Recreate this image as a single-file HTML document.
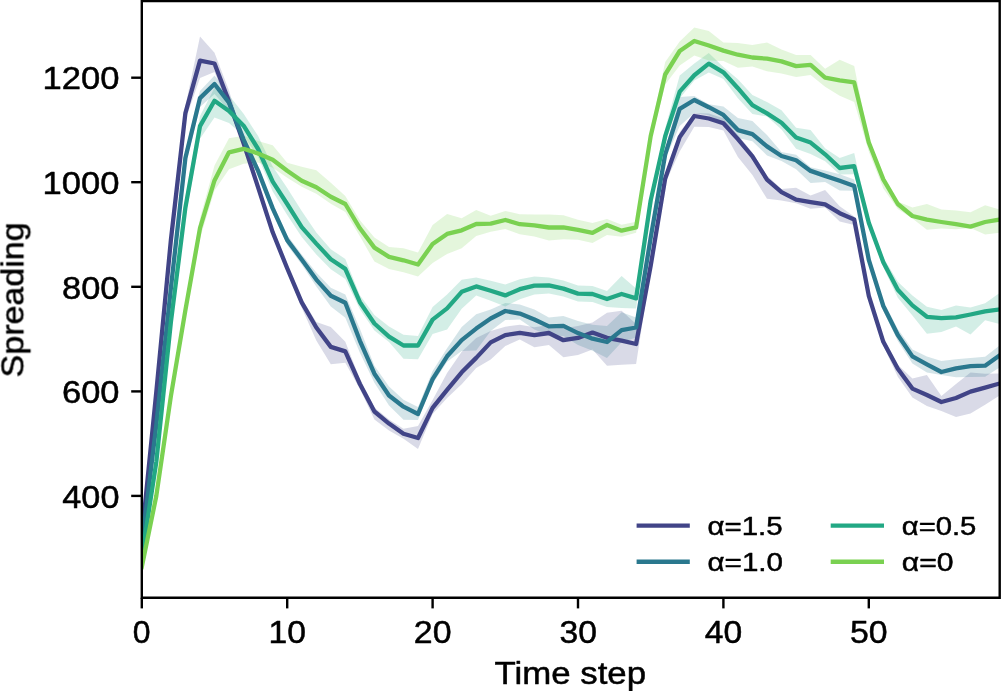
<!DOCTYPE html>
<html><head><meta charset="utf-8"><title>Spreading vs time step</title>
<style>html,body{margin:0;padding:0;background:#fff;overflow:hidden}svg{display:block}text{font-family:"Liberation Sans",sans-serif;fill:#000}</style>
</head><body>
<svg width="1001" height="691" viewBox="0 0 1001 691">
<rect x="0" y="0" width="1001" height="691" fill="#fff"/>
<defs><filter id="g" filterUnits="userSpaceOnUse" x="0" y="0" width="1001" height="691"><feOffset dx="0" dy="0"/></filter></defs>
<defs><clipPath id="ax"><rect x="141.8" y="1.1" width="857.9" height="596.7"/></clipPath></defs>
<g clip-path="url(#ax)">
<path d="M141.8 534 L156.3 389 L170.9 237 L185.4 106.1 L200 36.6 L214.5 52.7 L229 90.6 L243.6 139.4 L258.1 183.3 L272.7 228.3 L287.2 264.3 L301.7 298.4 L316.3 322.1 L330.8 327.1 L345.3 341.8 L359.9 379 L374.4 407.5 L389 419.6 L403.5 428.8 L418 426 L432.6 399.9 L447.1 372.9 L461.7 351.7 L476.2 337.9 L490.7 331 L505.3 326.7 L519.8 324.8 L534.4 327.2 L548.9 325 L563.4 328.2 L578 325.9 L592.5 322.6 L607 312.8 L621.6 310.7 L636.1 324 L650.7 261.6 L665.2 173.5 L679.7 132.1 L694.3 113 L708.8 113.5 L723.4 118.3 L737.9 135.1 L752.4 152.4 L767 175.6 L781.5 189.1 L796.1 187.7 L810.6 195.6 L825.1 190 L839.7 206.2 L854.2 216.5 L868.8 292.8 L883.3 337.8 L897.8 364.7 L912.4 378.6 L926.9 375 L941.4 396 L956 384 L970.5 372.6 L985.1 373.7 L999.6 373.5 L999.6 395.5 L985.1 404.7 L970.5 413.6 L956 417 L941.4 411 L926.9 406 L912.4 397.6 L897.8 376.7 L883.3 345.8 L868.8 298.8 L854.2 224.9 L839.7 221.6 L825.1 207.4 L810.6 208.8 L796.1 203.3 L781.5 200.5 L767 198.8 L752.4 175 L737.9 157.1 L723.4 130.5 L708.8 126.9 L694.3 126.8 L679.7 151.5 L665.2 183.5 L650.7 269.6 L636.1 364 L621.6 364.7 L607 365.8 L592.5 349.6 L578 354.9 L563.4 357.2 L548.9 345 L534.4 347.2 L519.8 339.4 L505.3 346.1 L490.7 359.4 L476.2 367.9 L461.7 384.3 L447.1 397.9 L432.6 413.9 L418 449 L403.5 438.8 L389 430.6 L374.4 419.5 L359.9 389 L345.3 362.8 L330.8 364.3 L316.3 340.5 L301.7 307.8 L287.2 272.3 L272.7 236.3 L258.1 191.3 L243.6 147.4 L229 107.6 L214.5 71.9 L200 78 L185.4 120.1 L170.9 243 L156.3 395 L141.8 540Z" fill="#414487" fill-opacity="0.2" stroke="none"/>
<path d="M141.8 542 L156.3 422 L170.9 285 L185.4 150.1 L200 91.1 L214.5 75.6 L229 94.6 L243.6 134.6 L258.1 165.9 L272.7 203.4 L287.2 235.1 L301.7 254.5 L316.3 272.6 L330.8 287.8 L345.3 294.4 L359.9 328.8 L374.4 365.7 L389 386.5 L403.5 399.7 L418 407 L432.6 371.1 L447.1 348.3 L461.7 327.1 L476.2 314.2 L490.7 309.5 L505.3 303 L519.8 304.6 L534.4 309.5 L548.9 317.4 L563.4 315.9 L578 321.1 L592.5 324.7 L607 326 L621.6 312.2 L636.1 317.5 L650.7 233.7 L665.2 149.3 L679.7 96.9 L694.3 96 L708.8 104.2 L723.4 106.5 L737.9 118.1 L752.4 121.1 L767 135 L781.5 152 L796.1 154.8 L810.6 167.3 L825.1 170.5 L839.7 174.2 L854.2 179.4 L868.8 256.8 L883.3 301 L897.8 329 L912.4 349.4 L926.9 356.4 L941.4 361 L956 359.3 L970.5 358.1 L985.1 356.7 L999.6 345.5 L999.6 367.5 L985.1 376.7 L970.5 377.1 L956 377.3 L941.4 375 L926.9 372.4 L912.4 363.4 L897.8 341 L883.3 311 L868.8 262.8 L854.2 190.8 L839.7 190.4 L825.1 181.9 L810.6 182.9 L796.1 169.2 L781.5 161 L767 155.4 L752.4 141.3 L737.9 138.1 L723.4 122.9 L708.8 115.2 L694.3 113 L679.7 125.9 L665.2 159.3 L650.7 241.7 L636.1 337.5 L621.6 342.2 L607 358 L592.5 350.7 L578 345.1 L563.4 335.9 L548.9 335.4 L534.4 329.5 L519.8 319.6 L505.3 320 L490.7 331.1 L476.2 350.6 L461.7 351.1 L447.1 361.8 L432.6 384.1 L418 420 L403.5 419.7 L389 405.5 L374.4 382.7 L359.9 352.8 L345.3 317.8 L330.8 306.6 L316.3 286.6 L301.7 264.5 L287.2 245.1 L272.7 213.4 L258.1 175.9 L243.6 144.6 L229 110.6 L214.5 94 L200 107.1 L185.4 166.1 L170.9 291 L156.3 428 L141.8 548Z" fill="#2a788e" fill-opacity="0.2" stroke="none"/>
<path d="M141.8 554 L156.3 459 L170.9 319 L185.4 197.6 L200 116.1 L214.5 87.8 L229 95.3 L243.6 113.7 L258.1 136 L272.7 166.6 L287.2 188 L301.7 211.1 L316.3 232.6 L330.8 249.2 L345.3 258.9 L359.9 295.2 L374.4 315.1 L389 326.6 L403.5 334.7 L418 335.9 L432.6 307 L447.1 294.4 L461.7 279.8 L476.2 277.4 L490.7 280.7 L505.3 284.4 L519.8 279.2 L534.4 276.6 L548.9 277.4 L563.4 280.6 L578 285.6 L592.5 286 L607 291 L621.6 276 L636.1 288.4 L650.7 195.4 L665.2 128.2 L679.7 75.6 L694.3 63.6 L708.8 53 L723.4 66.9 L737.9 79.2 L752.4 95.1 L767 102 L781.5 110.2 L796.1 127.8 L810.6 130 L825.1 148.3 L839.7 158 L854.2 153 L868.8 218.7 L883.3 257.2 L897.8 281.8 L912.4 295.4 L926.9 306.8 L941.4 310.1 L956 305.4 L970.5 307.5 L985.1 303.3 L999.6 293 L999.6 324 L985.1 320.3 L970.5 334.5 L956 326.4 L941.4 332.1 L926.9 333.8 L912.4 315.4 L897.8 297.8 L883.3 267.2 L868.8 226.7 L854.2 174.2 L839.7 174.6 L825.1 161.3 L810.6 154 L796.1 148.8 L781.5 129.4 L767 116.4 L752.4 114.1 L737.9 98.2 L723.4 78.9 L708.8 72.6 L694.3 80.6 L679.7 98.2 L665.2 144.2 L650.7 205.4 L636.1 308.4 L621.6 308 L607 307 L592.5 302 L578 301.6 L563.4 296.6 L548.9 293.4 L534.4 294.6 L519.8 299.2 L505.3 306.4 L490.7 300.7 L476.2 295.4 L461.7 308.8 L447.1 329.4 L432.6 334 L418 359.3 L403.5 358.7 L389 342 L374.4 330.5 L359.9 309.2 L345.3 278.9 L330.8 269.2 L316.3 254.6 L301.7 237.1 L287.2 215 L272.7 191.6 L258.1 157 L243.6 135.7 L229 122.9 L214.5 117.6 L200 138.7 L185.4 217.6 L170.9 325 L156.3 465 L141.8 560Z" fill="#22a884" fill-opacity="0.2" stroke="none"/>
<path d="M141.8 564 L156.3 493 L170.9 393 L185.4 302.1 L200 218.2 L214.5 165.4 L229 138.3 L243.6 135.8 L258.1 141 L272.7 145.3 L287.2 162.8 L301.7 166.8 L316.3 170.3 L330.8 182.8 L345.3 196 L359.9 220.3 L374.4 237.6 L389 246.9 L403.5 248.3 L418 252.5 L432.6 225 L447.1 213.9 L461.7 218.3 L476.2 210 L490.7 215.7 L505.3 211 L519.8 214.2 L534.4 214.4 L548.9 214.5 L563.4 215.3 L578 219.8 L592.5 222.9 L607 219 L621.6 224.7 L636.1 221.8 L650.7 130 L665.2 61.9 L679.7 41.4 L694.3 27.4 L708.8 30.9 L723.4 42.4 L737.9 43.1 L752.4 45.1 L767 42.5 L781.5 49.4 L796.1 55.1 L810.6 54.9 L825.1 68.7 L839.7 59.7 L854.2 65.9 L868.8 139.5 L883.3 176.4 L897.8 201.5 L912.4 207.6 L926.9 204 L941.4 209.4 L956 210.6 L970.5 212.2 L985.1 205.2 L999.6 209.4 L999.6 232.8 L985.1 234.6 L970.5 228.1 L956 229.2 L941.4 228.6 L926.9 229.8 L912.4 218.4 L897.8 209 L883.3 188.4 L868.8 151.5 L854.2 101.9 L839.7 95.7 L825.1 86.7 L810.6 74.9 L796.1 77.1 L781.5 73.4 L767 71.3 L752.4 66.5 L737.9 67.7 L723.4 61 L708.8 60.5 L694.3 55.4 L679.7 65.4 L665.2 84.5 L650.7 142 L636.1 232.8 L621.6 236.7 L607 235 L592.5 242.9 L578 239.8 L563.4 239.3 L548.9 240.5 L534.4 236.4 L519.8 234.2 L505.3 229 L490.7 231.7 L476.2 236 L461.7 248.3 L447.1 253.9 L432.6 263 L418 276.5 L403.5 272.3 L389 268.9 L374.4 261.6 L359.9 236.3 L345.3 212 L330.8 203.8 L316.3 193.8 L301.7 186.8 L287.2 177.8 L272.7 167.8 L258.1 162.5 L243.6 163.8 L229 169.3 L214.5 190.4 L200 238.2 L185.4 318.1 L170.9 399 L156.3 499 L141.8 570Z" fill="#7ad151" fill-opacity="0.2" stroke="none"/>
<path d="M141.8 537 L156.3 392 L170.9 240 L185.4 113.1 L200 60.6 L214.5 63.5 L229 101.6 L243.6 143.4 L258.1 187.3 L272.7 232.3 L287.2 268.3 L301.7 302.4 L316.3 327.5 L330.8 346.9 L345.3 351.4 L359.9 384 L374.4 411.5 L389 423.6 L403.5 433.8 L418 438 L432.6 407.9 L447.1 389.9 L461.7 372.3 L476.2 357.9 L490.7 342.4 L505.3 335.1 L519.8 332.8 L534.4 335.2 L548.9 333 L563.4 340.2 L578 337.9 L592.5 332.6 L607 337.8 L621.6 340.7 L636.1 344 L650.7 265.6 L665.2 178.5 L679.7 137.1 L694.3 116 L708.8 118.5 L723.4 123.3 L737.9 139.1 L752.4 156.4 L767 179.6 L781.5 192.1 L796.1 199.7 L810.6 202.2 L825.1 204.4 L839.7 213.2 L854.2 219.5 L868.8 295.8 L883.3 341.8 L897.8 368.7 L912.4 388.6 L926.9 395 L941.4 402 L956 398 L970.5 391.6 L985.1 387.7 L999.6 383.5" fill="none" stroke="#414487" stroke-width="4.3" stroke-linejoin="round" stroke-linecap="square"/>
<path d="M141.8 545 L156.3 425 L170.9 288 L185.4 158.1 L200 98.1 L214.5 84 L229 102.6 L243.6 139.6 L258.1 170.9 L272.7 208.4 L287.2 240.1 L301.7 259.5 L316.3 279.6 L330.8 295.8 L345.3 302.8 L359.9 340.8 L374.4 373.7 L389 395.5 L403.5 406.7 L418 414 L432.6 379.1 L447.1 356.3 L461.7 340.1 L476.2 328.6 L490.7 318.5 L505.3 311 L519.8 313.6 L534.4 319.5 L548.9 326.4 L563.4 325.9 L578 333.1 L592.5 338.7 L607 342 L621.6 330.2 L636.1 327.5 L650.7 237.7 L665.2 154.3 L679.7 108.9 L694.3 100 L708.8 107.2 L723.4 114.9 L737.9 130.1 L752.4 134.1 L767 146.4 L781.5 156 L796.1 160.2 L810.6 170.9 L825.1 175.9 L839.7 180.8 L854.2 186 L868.8 259.8 L883.3 306 L897.8 335 L912.4 356.4 L926.9 364.4 L941.4 372 L956 368.3 L970.5 366.1 L985.1 365.7 L999.6 355.5" fill="none" stroke="#2a788e" stroke-width="4.3" stroke-linejoin="round" stroke-linecap="square"/>
<path d="M141.8 557 L156.3 462 L170.9 322 L185.4 207.6 L200 126.1 L214.5 100.8 L229 110.9 L243.6 125.7 L258.1 149 L272.7 181.6 L287.2 204 L301.7 227.1 L316.3 243.6 L330.8 259.2 L345.3 268.9 L359.9 302.2 L374.4 323.5 L389 336.6 L403.5 345.5 L418 345.5 L432.6 319.6 L447.1 308.4 L461.7 291.8 L476.2 286.4 L490.7 290.7 L505.3 295.4 L519.8 289.2 L534.4 285.6 L548.9 285.4 L563.4 288.6 L578 293.6 L592.5 294 L607 299 L621.6 294 L636.1 298.4 L650.7 200.4 L665.2 136.2 L679.7 91.6 L694.3 75.2 L708.8 63.6 L723.4 72.3 L737.9 88.2 L752.4 105.1 L767 113.4 L781.5 122.8 L796.1 137.4 L810.6 142.6 L825.1 154.3 L839.7 168 L854.2 166.2 L868.8 222.7 L883.3 262.2 L897.8 289.8 L912.4 305.4 L926.9 316.8 L941.4 318.1 L956 317.4 L970.5 314.5 L985.1 311.3 L999.6 309.5" fill="none" stroke="#22a884" stroke-width="4.3" stroke-linejoin="round" stroke-linecap="square"/>
<path d="M141.8 567 L156.3 496 L170.9 396 L185.4 310.1 L200 228.2 L214.5 180.4 L229 152.3 L243.6 148.8 L258.1 153.5 L272.7 159.8 L287.2 170.8 L301.7 180.8 L316.3 187.3 L330.8 196.8 L345.3 204 L359.9 228.3 L374.4 247.6 L389 256.9 L403.5 260.3 L418 264.5 L432.6 244 L447.1 233.9 L461.7 230.3 L476.2 224 L490.7 223.7 L505.3 220 L519.8 224.2 L534.4 225.4 L548.9 227.5 L563.4 227.3 L578 229.8 L592.5 232.9 L607 225 L621.6 230.7 L636.1 227.3 L650.7 136 L665.2 74.5 L679.7 51 L694.3 41 L708.8 45.5 L723.4 50.6 L737.9 54.7 L752.4 57.5 L767 58.7 L781.5 61.4 L796.1 66.1 L810.6 64.9 L825.1 77.7 L839.7 80.3 L854.2 82.4 L868.8 142.5 L883.3 179.4 L897.8 204 L912.4 216 L926.9 219.6 L941.4 222 L956 224.2 L970.5 226.6 L985.1 222 L999.6 219.6" fill="none" stroke="#7ad151" stroke-width="4.3" stroke-linejoin="round" stroke-linecap="square"/>
</g>
<g stroke="#000" stroke-width="2.4" fill="none" stroke-linecap="square">
<path d="M141.8 1.1 H999.7 V597.8 H141.8 Z"/>
</g>
<g stroke="#000" stroke-width="2.4">
<line x1="141.8" y1="597.8" x2="141.8" y2="608.4"/>
<line x1="287.2" y1="597.8" x2="287.2" y2="608.4"/>
<line x1="432.6" y1="597.8" x2="432.6" y2="608.4"/>
<line x1="578" y1="597.8" x2="578" y2="608.4"/>
<line x1="723.4" y1="597.8" x2="723.4" y2="608.4"/>
<line x1="868.8" y1="597.8" x2="868.8" y2="608.4"/>
<line x1="131.2" y1="77.7" x2="141.8" y2="77.7"/>
<line x1="131.2" y1="182.2" x2="141.8" y2="182.2"/>
<line x1="131.2" y1="286.8" x2="141.8" y2="286.8"/>
<line x1="131.2" y1="391.4" x2="141.8" y2="391.4"/>
<line x1="131.2" y1="495.9" x2="141.8" y2="495.9"/>
</g>
<g filter="url(#g)" stroke="#000" stroke-width="0.5" stroke-linejoin="round">
<text font-size="31.7" transform="translate(132.82 642.60) scale(1.0071 1)">0</text>
<text font-size="31.7" transform="translate(268.57 642.60) scale(1.0644 1)">10</text>
<text font-size="31.7" transform="translate(413.76 642.60) scale(1.0703 1)">20</text>
<text font-size="31.7" transform="translate(559.40 642.60) scale(1.0629 1)">30</text>
<text font-size="31.7" transform="translate(704.76 642.60) scale(1.0637 1)">40</text>
<text font-size="31.7" transform="translate(850.03 642.60) scale(1.0672 1)">50</text>
<text font-size="31.7" transform="translate(42.52 89.40) scale(1.0921 1)">1200</text>
<text font-size="31.7" transform="translate(42.52 193.95) scale(1.0921 1)">1000</text>
<text font-size="31.7" transform="translate(61.96 298.50) scale(1.0881 1)">800</text>
<text font-size="31.7" transform="translate(61.94 403.10) scale(1.0884 1)">600</text>
<text font-size="31.7" transform="translate(62.30 507.65) scale(1.0815 1)">400</text>
<text font-size="31.7" transform="translate(494.50 684.00) scale(1.0991 1)">Time step</text>
<text font-size="31.7" transform="translate(23.40 377.39) rotate(-90) scale(1.0726 1)">Spreading</text>
<text font-size="25.6" transform="translate(707.51 534.60) scale(1.1506 1)">α=1.5</text>
<text font-size="25.6" transform="translate(707.50 570.60) scale(1.1560 1)">α=1.0</text>
<text font-size="25.6" transform="translate(901.82 534.60) scale(1.1411 1)">α=0.5</text>
<text font-size="25.6" transform="translate(901.78 570.60) scale(1.1792 1)">α=0</text>
</g>
<g stroke-width="4.3" stroke-linecap="butt">
<line x1="636.6" y1="525.7" x2="689.8" y2="525.7" stroke="#414487"/>
<line x1="636.6" y1="561.75" x2="689.8" y2="561.75" stroke="#2a788e"/>
<line x1="830.7" y1="525.7" x2="884.0" y2="525.7" stroke="#22a884"/>
<line x1="830.7" y1="561.75" x2="884.0" y2="561.75" stroke="#7ad151"/>
</g>
</svg>
</body></html>
